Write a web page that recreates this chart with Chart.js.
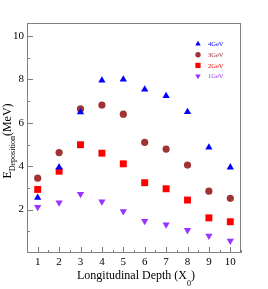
<!DOCTYPE html>
<html>
<head>
<meta charset="UTF-8">
<title>Energy deposition vs depth</title>
<script src="https://cdn.jsdelivr.net/npm/chart.js"></script>
<style>
  html, body { margin: 0; padding: 0; background: #fff; }
  #wrap { width: 268px; height: 289px; }
</style>
</head>
<body>
<div id="wrap"><canvas id="c" width="268" height="289"></canvas></div>
<script>
// data
const depth = [1, 2, 3, 4, 5, 6, 7, 8, 9, 10];
const e4GeV = [2.55, 3.95, 6.49, 7.95, 8.0, 7.54, 7.24, 6.5, 4.87, 3.95];
const e3GeV = [3.45, 4.63, 6.64, 6.82, 6.4, 5.1, 4.79, 4.05, 2.85, 2.52];
const e2GeV = [2.93, 3.77, 4.99, 4.6, 4.11, 3.24, 2.96, 2.44, 1.62, 1.44];
const e1GeV = [2.12, 2.32, 2.72, 2.37, 1.92, 1.47, 1.31, 1.05, 0.79, 0.56];
const xTicks = [1, 2, 3, 4, 5, 6, 7, 8, 9, 10];
const yTicks = [2, 4, 6, 8, 10];

const serif = '"Liberation Serif", "DejaVu Serif", serif';
const frameColor = '#808080';

function pts(ys) {
    return depth.map((x, i) => ({ x: x, y: ys[i] }));
}

const series = [
    { label: '4GeV', data: e4GeV, color: '#0000ff', style: 'triangle', rot: 0, r: 4.2 },
    { label: '3GeV', data: e3GeV, color: '#a03434', style: 'circle', rot: 0, r: 3.6 },
    { label: '2GeV', data: e2GeV, color: '#ff0000', style: 'rect', rot: 0, r: 4.9 },
    { label: '1GeV', data: e1GeV, color: '#9933ff', style: 'triangle', rot: 180, r: 4.2 }
];

// frame, inward ticks, axis titles and legend
const decor = {
    id: 'decor',
    afterDraw(chart) {
        const ctx = chart.ctx;
        const a = chart.chartArea;
        const xs = chart.scales.x, ys = chart.scales.y;
        ctx.save();
        ctx.strokeStyle = frameColor;
        ctx.lineWidth = 1;
        ctx.strokeRect(a.left + 0.5, a.top + 0.5, a.right - a.left - 1, a.bottom - a.top - 1);

        ctx.beginPath();
        for (let v = 0.5; v <= 10.5; v += 0.5) {
            const px = Math.round(xs.getPixelForValue(v)) + 0.5;
            const len = Number.isInteger(v) ? 6 : 3;
            ctx.moveTo(px, a.bottom);
            ctx.lineTo(px, a.bottom - len);
        }
        for (let v = 1; v <= 10; v += 1) {
            const py = Math.round(ys.getPixelForValue(v)) + 0.5;
            const len = v % 2 === 0 ? 6 : 3;
            ctx.moveTo(a.left, py);
            ctx.lineTo(a.left + len, py);
        }
        ctx.stroke();

        // x title
        ctx.fillStyle = '#000';
        ctx.textBaseline = 'alphabetic';
        ctx.font = '12px ' + serif;
        const main = 'Longitudinal Depth (X';
        const w1 = ctx.measureText(main).width;
        ctx.font = '8px ' + serif;
        const wsub = ctx.measureText('0').width;
        ctx.font = '12px ' + serif;
        const w2 = ctx.measureText(')').width;
        let x0 = (a.left + a.right) / 2 - (w1 + wsub + w2) / 2 + 2;
        ctx.textAlign = 'left';
        ctx.fillText(main, x0, 279);
        ctx.font = '8px ' + serif;
        ctx.fillText('0', x0 + w1, 286);
        ctx.font = '12px ' + serif;
        ctx.fillText(')', x0 + w1 + wsub, 279);

        // y title
        ctx.save();
        ctx.translate(11, 141);
        ctx.rotate(-Math.PI / 2);
        ctx.font = '12px ' + serif;
        const e = 'E', mev = '(MeV)';
        const we = ctx.measureText(e).width;
        const wm = ctx.measureText(mev).width;
        ctx.font = '8px ' + serif;
        const sub = 'Deposition';
        const ws = ctx.measureText(sub).width;
        let y0 = -(we + ws + wm) / 2;
        ctx.font = '12px ' + serif;
        ctx.fillText(e, y0, 0);
        ctx.font = '8px ' + serif;
        ctx.fillText(sub, y0 + we, 3.5);
        ctx.font = '12px ' + serif;
        ctx.fillText(mev, y0 + we + ws, 0);
        ctx.restore();

        // legend
        ctx.font = '6.5px ' + serif;
        ctx.textBaseline = 'middle';
        series.forEach((s, i) => {
            const ly = 44 + i * 10.7;
            ctx.fillStyle = s.color;
            ctx.strokeStyle = s.color;
            Chart.helpers.drawPoint(ctx, {
                pointStyle: s.style, radius: s.r * 0.75, rotation: s.rot,
                borderWidth: 0
            }, 198, ly);
            ctx.fillText(s.label, 208, ly + 0.5);
        });
        ctx.restore();
    }
};

const datasets = series.map(s => ({
    label: s.label,
    data: pts(s.data),
    pointStyle: s.style,
    rotation: s.rot,
    pointRadius: s.r,
    pointHoverRadius: s.r,
    backgroundColor: s.color,
    borderColor: s.color,
    borderWidth: 0,
    showLine: false
}));

new Chart(document.getElementById('c'), {
    type: 'scatter',
    data: { datasets: datasets },
    options: {
        responsive: false,
        animation: false,
        events: [],
        layout: { padding: { left: 0, top: 23, right: 27, bottom: 0 } },
        plugins: { legend: { display: false }, tooltip: { enabled: false } },
        scales: {
            x: {
                type: 'linear',
                min: 0.5,
                max: 10.5,
                afterBuildTicks: sc => { sc.ticks = xTicks.map(v => ({ value: v })); },
                afterFit: sc => { sc.height = 36; },
                grid: { display: false, drawTicks: false },
                border: { display: false },
                ticks: { color: '#000', font: { family: serif, size: 11 }, padding: 3, maxRotation: 0, autoSkip: false }
            },
            y: {
                type: 'linear',
                min: 0,
                max: 10.6,
                afterBuildTicks: sc => { sc.ticks = yTicks.map(v => ({ value: v })); },
                afterFit: sc => { sc.width = 27; },
                grid: { display: false, drawTicks: false },
                border: { display: false },
                ticks: { color: '#000', font: { family: serif, size: 11 }, padding: 3 }
            }
        }
    },
    plugins: [decor]
});
</script>
</body>
</html>
